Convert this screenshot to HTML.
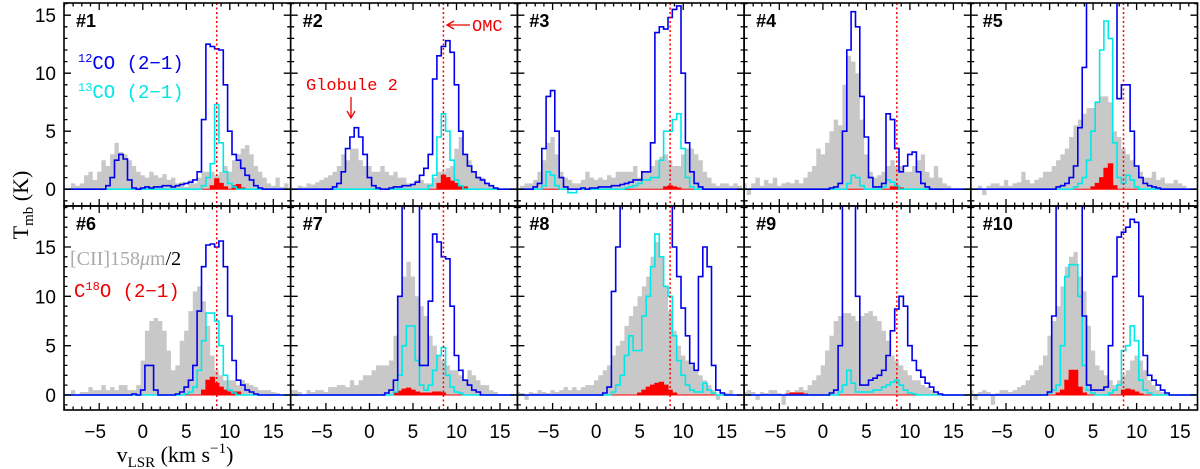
<!DOCTYPE html>
<html><head><meta charset="utf-8"><style>
html,body{margin:0;padding:0;background:#fff;}
svg{display:block;}
</style></head><body>
<svg id="chart" width="1200" height="469" viewBox="0 0 1200 469" xmlns="http://www.w3.org/2000/svg" font-family="Liberation Sans, sans-serif">
<g id="panels"></g>
<g id="frame"></g>
<g id="labels">
  <text x="0" y="0" transform="translate(28,205) rotate(-90)" text-anchor="middle" font-family="Liberation Serif, serif" font-size="22">T<tspan font-size="15" dy="5">mb</tspan><tspan dy="-5"> (K)</tspan></text>
  <text x="175" y="462" text-anchor="middle" font-family="Liberation Serif, serif" font-size="22">v<tspan font-size="15" dy="5">LSR</tspan><tspan dy="-5"> (km s</tspan><tspan font-size="15" dy="-9">−1</tspan><tspan dy="9">)</tspan></text>
  <text x="78" y="69" fill="#0000ee" font-family="Liberation Mono, monospace" font-size="19"><tspan font-size="12" dy="-7">12</tspan><tspan dy="7">CO (2−1)</tspan></text>
  <text x="78" y="98" fill="#00e5e5" font-family="Liberation Mono, monospace" font-size="19"><tspan font-size="12" dy="-7">13</tspan><tspan dy="7">CO (2−1)</tspan></text>
  <text x="70" y="265" fill="#aaaaaa" font-family="Liberation Serif, serif" font-size="20">[CII]158<tspan font-style="italic">μ</tspan>m<tspan fill="#000">/2</tspan></text>
  <text x="74" y="297" fill="#ee0000" font-family="Liberation Mono, monospace" font-size="19">C<tspan font-size="12" dy="-7">18</tspan><tspan dy="7">O (2−1)</tspan></text>
  <text x="306" y="90" fill="#ee0000" font-family="Liberation Mono, monospace" font-size="17">Globule 2</text>
  <line x1="351" y1="97" x2="351" y2="117" stroke="#ee0000" stroke-width="1.3"/>
  <path d="M347,111 L351,118 L355,111" fill="none" stroke="#ee0000" stroke-width="1.3"/>
  <text x="472" y="31" fill="#ee0000" font-family="Liberation Mono, monospace" font-size="17">OMC</text>
  <line x1="448" y1="25" x2="470" y2="25" stroke="#ee0000" stroke-width="1.3"/>
  <path d="M454,21 L447,25 L454,29" fill="none" stroke="#ee0000" stroke-width="1.3"/>
</g>
</svg>
<script>
// ---- data: channel values at 0.5 km/s steps, starting at the given velocity ----
const xTicks = [-5, 0, 5, 10, 15];
const xTickLabels = ["−5", "0", "5", "10", "15"];
const yTicks = [0, 5, 10, 15];
const yTickLabels = ["0", "5", "10", "15"];
const panelNames = ["#1","#2","#3","#4","#5","#6","#7","#8","#9","#10"];
const omcVelocity = 8.5;

const p1_cii_v0 = -9;
const p1_cii = [0,0, .5,.3, .5,1.2, 1.5,.8, 1.5,2.5, 2,3, 4,3.2, 3,2.5, 2,1.5, 1.2,1, 1.5,1.2, 1,1.3, .8,1, .5,.6, .2,.8, .5,1, 1.5,1.5, 1.5,1.2, 1.5,2, 1.5,2.5, 3,3.5, 3.8,3, 2,1.5, 1,.5, .3,1, .2,.5];
const p1_co12_v0 = -4;
const p1_co12 = [.3,1, 2.5,3, 2.6,.8, .1,0, .1,.2, .1,.2, .2,.3, .3,.2, .3,.4, .5,.6, .8,1.5, 6,12.5, 12.3,12.1, 12,9, 5,3, 2.5,1.8, 1.2,.8, .3,.1];
const p1_co13_v0 = 7;
const p1_co13 = [.3,1, 2.2,7.3, 4,1.5, .5,.2];
const p1_c18_v0 = 8;
const p1_c18 = [.3,.9, .5,.2, 0,.3, .4,.1];

const p2_cii_v0 = -9;
const p2_cii = [0,0, .3,.2, .5,.4, .6,.8, 1,1.2, 1.5,2, 3,2.5, 3.5,3.5, 2.5,2, 2,1.5, 1.5,2, 1.5,1.2, 1.5,1, 1,.5, .5,.8, .8,.5, .5,1, 1.5,1.5, 1.8,2, 3.5,4.5, 3,2.5, 1.5,1, 1,.5, .3,.2];
const p2_co12_v0 = -4;
const p2_co12 = [.2,.5, 1.5,3.5, 4.5,5.3, 4.5,3, 1,.3, .1,0, 0,.1, .2,.2, .3,.3, .4,.6, 1.2,1.8, 3,9.5, 11.5,12.3, 12.8,11.8, 9,5, 3,2, 1.5,1, .8,.5, .3,.1];
const p2_co13_v0 = 7;
const p2_co13 = [.3,1.2, 4.5,6.5, 5,2.5, .8,.3];
const p2_c18_v0 = 8;
const p2_c18 = [.5,1.2, 1,.7, .5,.3, .2,0];

const p3_cii_v0 = -9;
const p3_cii = [0,.3, .5,.5, .8,1.5, 2.5,4, 4.5,3, 1.5,1, .8,.5, .5,.8, 1.5,1, .8,1, .8,1.2, 1,1.5, 1.5,1.5, 1.5,2, 1,1.5, 1.5,2, 2.5,2.8, 3,2.5, 2,2, 3,3.5, 3.5,3, 2.5,1.5, 1,.5, .3,.5, .5,.3, .5,.3];
const p3_co12_v0 = -7;
const p3_co12 = [.2,.5, 3.5,8, 8.5,5, 1,.2, 0,0, 0,.1, 0,.1, .1,.2, .2,.2, .3,.3, .4,.5, .6,.8, .8,1.5, 1.5,4, 13.5,14, 13.8,14.8, 15.5,15.8, 10,4, 1.5,.5, .2,0];
const p3_co13_v0 = -6;
const p3_co13 = [.3,1.5, 1.2,.3, 0,0, -.3,-.3, 0,0, 0,0, 0,0, 0,0, 0,0, 0,.1, .2,.3, .5,.8, .8,1, 1,2.5, 5,5, 6,6.5, 3.5,1, .2,0];
const p3_c18_v0 = 8;
const p3_c18 = [.2,.3, .2,.1];

const p4_cii_v0 = -9;
const p4_cii = [.5,-.5, .5,1, .3,.8, .5,1, .3,.5, .6,.5, .8,.5, 1,1.5, 2,3.5, 3,4, 5,6, 5.5,9, 11.5,11, 10,6, 3,1.5, 1,1.2, 1.5,2, 2.5,2, 2,1.5, 1.5,2, 2.5,3, 1.5,1, 2,1, .5,.3];
const p4_co12_v0 = 1;
const p4_co12 = [.1,.2, .5,5, 12,15.3, 14,8, 4.5,1, .2,.2, .5,6.5, 6,3.5, 1.5,2, 3,3.2, 1.5,.5, .2,0];
const p4_co13_v0 = 3;
const p4_co13 = [.5,1.2, 1,.3, 0,0, 0,0, .2,.8, .6,.3];
const p4_c18_v0 = 8;
const p4_c18 = [.2,.3, .1,0];

const p5_cii_v0 = -9;
const p5_cii = [0,0, .3,-.5, .3,.5, .5,.3, .8,.3, .5,.6, 1.5,.8, .5,.8, 1,1.5, 1.5,2, 2.5,3, 3.5,4.5, 5.5,6, 6.5,7, 7,7.5, 8,8, 7.5,5, 4.5,3.5, 3,2.5, 2,1.5, 1,1, 1.5,.8, 1,.5, .5,.8, .5,.3];
const p5_co12_v0 = 1;
const p5_co12 = [.2,.3, .5,1, 2,5.3, 10.5,17, 20,20, 20,20, 20,20, 7.8,9, 9,5, 2,1, .5,.3, .2,.1];
const p5_co13_v0 = 3;
const p5_co13 = [.2,.5, 1,2.5, 5,7.5, 12,14.5, 13,4, 1,.5, 1.2,.8, .2,0];
const p5_c18_v0 = 5;
const p5_c18 = [.2,.5, 1,1.8, 2.2,.3];

const p6_cii_v0 = -9;
const p6_cii = [0,0, .5,0, .3,.3, .8,.5, .5,1, .5,.8, .5,1, 1,.5, .5,1, 3.5,6.5, 7.5,7.8, 7.5,6.5, 4.5,2.5, 3,5.5, 6.5,8.5, 10.5,11, 9.5,7, 4,2.5, 2,1.5, 1.5,1.5, 1,1.5, 1.2,1, .8,.5, .5,.5, .3,.2];
const p6_co12_v0 = -1;
const p6_co12 = [.1,0, .5,3, 3,.5, 0,0, 0,0, .1,.3, .8,1.5, 3,8.5, 13,15.2, 15.3,15, 15.6,13, 8,3.5, 1.5,1, .5,.3, .1,0];
const p6_co13_v0 = 5;
const p6_co13 = [.1,.3, .8,2.5, 5.5,8.3, 8.3,7.5, 5,2, .5,.2];
const p6_c18_v0 = 7;
const p6_c18 = [.5,1.5, 1.8,1.2, .8,.5, .3,.3, .3,0];

const p7_cii_v0 = -9;
const p7_cii = [.5,.5, .3,0, .5,.3, .5,.5, .3,.8, .8,1, 1,.8, 1.5,1, 1.5,2, 2,2.5, 3,3, 3,3.5, 6,10, 12,13.5, 12,10, 9,8, 6,5, 4,3.5, 3,2.5, 2.5,2, 1.5,2.5, 2,1.5, 1,1, .5,.3];
const p7_co12_v0 = 2;
const p7_co12 = [.2,.5, 1.5,10, 25,25, 25,20, 3,3, 9.5,16.3, 15.5,14, 13.8,9, 4,2.5, 1.5,1, .5,.3];
const p7_co13_v0 = 3;
const p7_co13 = [.3,2, 5,7, 7,3.5, 1,.5, 1,2.5, 4,4.8, 2,.8, .3,.2];
const p7_c18_v0 = 3;
const p7_c18 = [.2,.4, .6,.7, .5,.3, .2,.2, .2,.3, .3,.2];

const p8_cii_v0 = -9;
const p8_cii = [.3,.2, -.5,.3, .2,.5, .3,.2, .5,.3, .5,.8, .5,.8, .5,.8, 1,1, 1.5,2, 2.5,3, 4,5, 5.5,7, 8,9, 10,11, 12,14, 15.5,14, 11,8.5, 6.5,5, 4,3.5, 3,2.5, 2,1.5, 1,.5, -.5,.3, .2,.5];
const p8_co12_v0 = 1;
const p8_co12 = [.2,.8, 10.5,15, 25,25, 25,25, 25,25, 25,25, 25,25, 25,25, 15,12, 8.8,6, 3.2,2.5, 12,15, 13,3, .5,.2];
const p8_co13_v0 = 2;
const p8_co13 = [.3,1, 2,4, 6,4.5, 4.5,8, 10,13, 16.3,14, 11,10, 6,3.5, 2,1, .5,.3, .3,1.2, .5,.2];
const p8_c18_v0 = 5;
const p8_c18 = [.2,.5, .8,1, 1.2,1.3, 1,.5, .2,0];

const p9_cii_v0 = -9;
const p9_cii = [.3,.5, .3,-.5, .3,.2, .5,.5, .2,-1, .5,.3, .5,.8, .5,1, 1.5,2, 3,4.5, 6,7.5, 8,8.3, 8.3,8, 7.5,8, 8.3,8.5, 8,7.5, 6.5,5.5, 4,3.5, 3,2.5, 2,1.5, 1.5,1, .8,.5, .3,.2];
const p9_co12_v0 = 1;
const p9_co12 = [.2,.5, 5,25, 25,25, 10,1, 1,1.5, 1.7,2, 2.5,4, 6.5,8.7, 10,9, 5,3.5, 2.5,1.8, 1.2,.8, .3,.1];
const p9_co13_v0 = 2;
const p9_co13 = [.3,1, 2.5,1.2, .3,.3, .3,.3, .5,.5, .8,1, 1.3,1.5, 1,.5, .2,.1];
const p9_c18_v0 = -4;
const p9_c18 = [.1,.2, .2,.2, .1,0];

const p10_cii_v0 = -9;
const p10_cii = [.5,-.5, .3,.5, .3,-1, .2,.5, .5,.3, .5,.8, 1,1.5, 2,2.5, 3,4, 6,7.5, 9,11, 13,14, 14.5,12, 10.5,7, 4.5,3, 2.5,2, 1.5,1, 1.5,2, 2.5,3.5, 4,3.5, 2.5,1.5, 1,.5, .3,.2];
const p10_co12_v0 = 0;
const p10_co12 = [.3,8, 25,25, 25,25, 25,25, 8,1, .5,.5, .5,.8, 5,12, 16,16.5, 17,17.8, 17.5,10, 4,2, 1.5,1, .5,.2];
const p10_co13_v0 = 0;
const p10_co13 = [.2,.5, 1,5, 12,13.2, 13.2,10, 3,.5, .2,0, 0,0, .2,.5, 1,4.5, 5,7, 5.5,1.5, .5,.2];
const p10_c18_v0 = 1;
const p10_c18 = [.2,.5, 1.5,2.5, 2.5,.8, .2,0, 0,0, 0,0, 0,0, 0,.5, .6,.5, .3,.1];

const panelCii = [p1_cii,p2_cii,p3_cii,p4_cii,p5_cii,p6_cii,p7_cii,p8_cii,p9_cii,p10_cii];
const panelCiiV0 = [p1_cii_v0,p2_cii_v0,p3_cii_v0,p4_cii_v0,p5_cii_v0,p6_cii_v0,p7_cii_v0,p8_cii_v0,p9_cii_v0,p10_cii_v0];
const panelCo12 = [p1_co12,p2_co12,p3_co12,p4_co12,p5_co12,p6_co12,p7_co12,p8_co12,p9_co12,p10_co12];
const panelCo12V0 = [p1_co12_v0,p2_co12_v0,p3_co12_v0,p4_co12_v0,p5_co12_v0,p6_co12_v0,p7_co12_v0,p8_co12_v0,p9_co12_v0,p10_co12_v0];
const panelCo13 = [p1_co13,p2_co13,p3_co13,p4_co13,p5_co13,p6_co13,p7_co13,p8_co13,p9_co13,p10_co13];
const panelCo13V0 = [p1_co13_v0,p2_co13_v0,p3_co13_v0,p4_co13_v0,p5_co13_v0,p6_co13_v0,p7_co13_v0,p8_co13_v0,p9_co13_v0,p10_co13_v0];
const panelC18 = [p1_c18,p2_c18,p3_c18,p4_c18,p5_c18,p6_c18,p7_c18,p8_c18,p9_c18,p10_c18];
const panelC18V0 = [p1_c18_v0,p2_c18_v0,p3_c18_v0,p4_c18_v0,p5_c18_v0,p6_c18_v0,p7_c18_v0,p8_c18_v0,p9_c18_v0,p10_c18_v0];

// ---- layout ----
const NS = "http://www.w3.org/2000/svg";
const left0 = 64, pw = 226.7;
const rows = [{top:3, bot:206, tmin:-1.45, tmax:16.05}, {top:206, bot:410, tmin:-1.52, tmax:19.15}];
const vmin = -9.05, vmax = 17.0, step = 0.5;
const gPanels = document.getElementById("panels");
const gFrame = document.getElementById("frame");

function el(tag, attrs, parent){ const e=document.createElementNS(NS,tag); for(const k in attrs) e.setAttribute(k,attrs[k]); parent.appendChild(e); return e; }

function valAt(arr, v0, v){ const i=Math.round((v-v0)/step); return (i>=0&&i<arr.length)?arr[i]:0; }

for(let p=0;p<10;p++){
  const r = rows[p<5?0:1], col = p%5;
  const x0 = left0 + col*pw, x1 = x0+pw;
  const X = v => x0 + (v - vmin)/(vmax - vmin)*pw;
  const Y = t => r.bot - (t - r.tmin)/(r.tmax - r.tmin)*(r.bot - r.top);
  const g = el("g", {}, gPanels);
  
  
  const cid = "clip"+p;
  const cp = el("clipPath",{id:cid},g);
  el("rect",{x:x0,y:r.top,width:pw,height:r.bot-r.top},cp);
  const inner = el("g",{"clip-path":"url(#"+cid+")"},g);

  function stepPath(arr, v0, filled){
    let d = "";
    let first = true;
    for(let v=-9.5; v<=17.5; v+=step){
      const t = valAt(arr, v0, v);
      const y = Y(t).toFixed(1), xa = X(v-step/2).toFixed(1), xb = X(v+step/2).toFixed(1);
      if(first){ d += (filled? "M"+xa+","+Y(0).toFixed(1)+" L"+xa+","+y : "M"+xa+","+y); first=false; }
      else d += " L"+xa+","+y;
      d += " L"+xb+","+y;
    }
    if(filled) d += " L"+X(17.75).toFixed(1)+","+Y(0).toFixed(1)+" Z";
    return d;
  }
  const cii = el("path",{d:stepPath(panelCii[p],panelCiiV0[p],true),fill:"#c8c8c8",stroke:"none"},inner);
  
  
  const c18 = el("path",{d:stepPath(panelC18[p],panelC18V0[p],true),fill:"#ff0000",stroke:"#ff0000","stroke-width":"1"},inner);
  
  
  const co13 = el("path",{d:stepPath(panelCo13[p],panelCo13V0[p],false),fill:"none",stroke:"#00e8e8","stroke-width":"1.6"},inner);
  
  
  const co12 = el("path",{d:stepPath(panelCo12[p],panelCo12V0[p],false),fill:"none",stroke:"#0000ee","stroke-width":"1.6"},inner);
  
  
  const omc = el("line",{x1:X(omcVelocity),x2:X(omcVelocity),y1:r.top,y2:r.bot,stroke:"#ff0000","stroke-width":"1.5","stroke-dasharray":"2,2.5"},inner);
  
  

  let td = "";
  for(let v=-9; v<=17; v++){
    const len = (v%5===0)?7:3.5, x=X(v).toFixed(1);
    td += "M"+x+","+r.bot+" v"+(-len)+" M"+x+","+r.top+" v"+len+" ";
  }
  for(let t=Math.ceil(r.tmin); t<=r.tmax; t++){
    const len = (t%5===0)?7:3.5, y=Y(t).toFixed(1);
    td += "M"+x0+","+y+" h"+len+" M"+x1+","+y+" h"+(-len)+" ";
  }
  const ticks = el("path",{d:td,stroke:"#000","stroke-width":"1.3",fill:"none"},g);
  
  

  const lab = el("text",{x:x0+12,y:r.top+24,"font-size":"18","font-weight":"bold"},g);
  lab.textContent = panelNames[p];
  
  

  if(col===0){
    yTicks.forEach((t,i)=>{
      const tx = el("text",{x:56,y:Y(t)+7,"text-anchor":"end","font-size":"19"},g);
      tx.textContent = yTickLabels[i];
      
      
    });
  }
  if(p>=5){
    xTicks.forEach((v,i)=>{
      const tx = el("text",{x:X(v)-(v<0?4:0),y:438,"text-anchor":"middle","font-size":"19"},g);
      tx.textContent = xTickLabels[i];
      
      
    });
  }
  const fr = el("rect",{x:x0,y:r.top,width:pw,height:r.bot-r.top,fill:"none",stroke:"#000","stroke-width":"1.6"},gFrame);
  
  
}
</script>
</body></html>
